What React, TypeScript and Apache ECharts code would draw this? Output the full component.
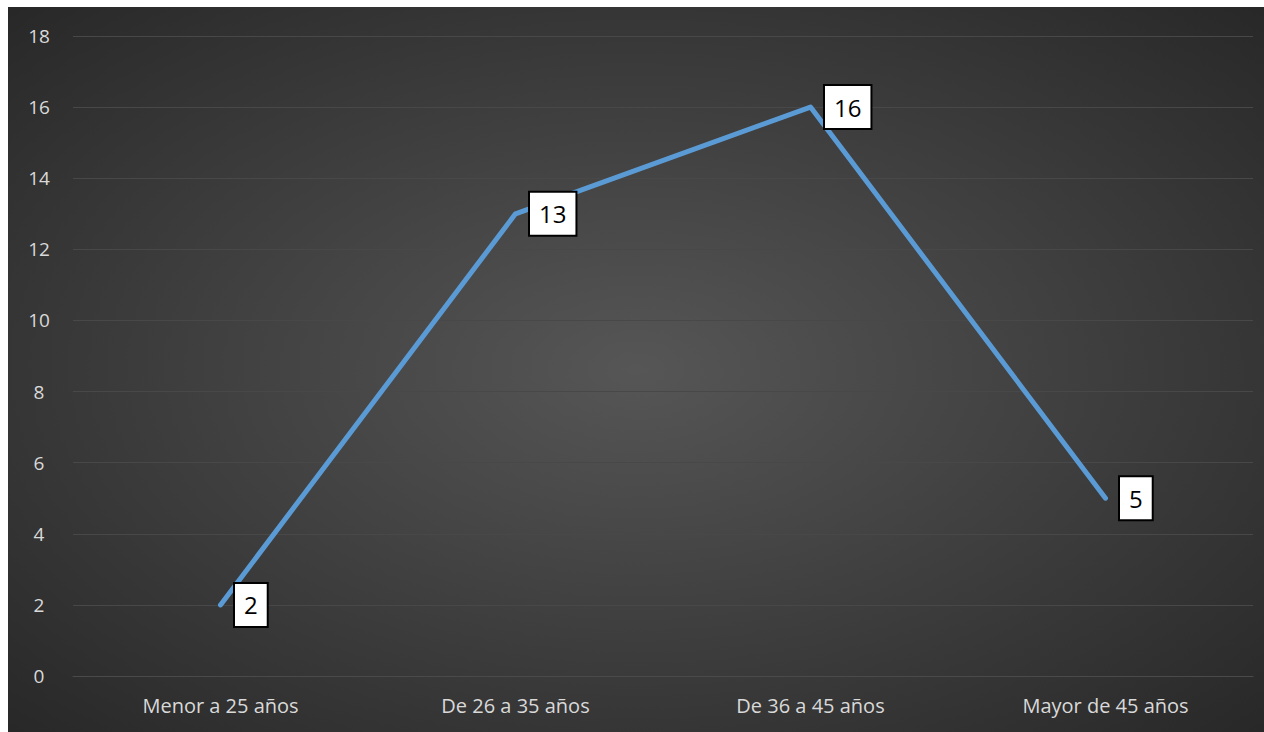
import React, { useEffect, useRef } from "react";
import * as echarts from "echarts";

const categories = ["Menor a 25 años", "De 26 a 35 años", "De 36 a 45 años", "Mayor de 45 años"];
const values = [2, 13, 16, 5];
const yTicks = { min: 0, max: 18, interval: 2 };

export default function App() {
  const ref = useRef<HTMLDivElement>(null);
  useEffect(() => {
    if (!ref.current) return;
    const chart = echarts.init(ref.current, undefined, { renderer: "svg" });
    chart.setOption({
      animation: false,
      backgroundColor: {
        type: "radial",
        x: 0.5,
        y: 0.5,
        r: 0.75,
        colorStops: [
          { offset: 0, color: "#565656" },
          { offset: 1, color: "#252525" },
        ],
      },
      grid: { left: 65, right: 11, top: 29, bottom: 56 },
      xAxis: {
        type: "category",
        data: categories,
        boundaryGap: true,
        axisLine: { show: true, lineStyle: { color: "#4a4a4a", width: 1 } },
        axisTick: { show: false },
        axisLabel: {
          color: "#d9d9d9",
          fontSize: 20,
          fontFamily: "Open Sans, sans-serif",
          margin: 19,
        },
      },
      yAxis: {
        type: "value",
        min: yTicks.min,
        max: yTicks.max,
        interval: yTicks.interval,
        axisLine: { show: false },
        axisTick: { show: false },
        splitLine: { lineStyle: { color: "#484848", width: 1 } },
        axisLabel: {
          color: "#d9d9d9",
          fontSize: 19,
          fontFamily: "Open Sans, sans-serif",
          margin: 34,
          align: "center",
        },
      },
      series: [
        {
          type: "line",
          data: values,
          symbol: "circle",
          symbolSize: 1,
          showSymbol: true,
          itemStyle: { color: "#5b9bd5" },
          lineStyle: { color: "#5b9bd5", width: 5, cap: "round", join: "round" },
          label: {
            show: true,
            position: "right",
            distance: 14,
            color: "#000",
            fontSize: 24,
            lineHeight: 28,
            fontFamily: "Open Sans, sans-serif",
            backgroundColor: "#fff",
            borderColor: "#000",
            borderWidth: 2,
            padding: [8, 9, 6, 9],
          },
        },
      ],
    });
    return () => chart.dispose();
  }, []);
  return (
    <div
      ref={ref}
      style={{ position: "absolute", left: 8, top: 7, width: 1256, height: 725 }}
    />
  );
}
